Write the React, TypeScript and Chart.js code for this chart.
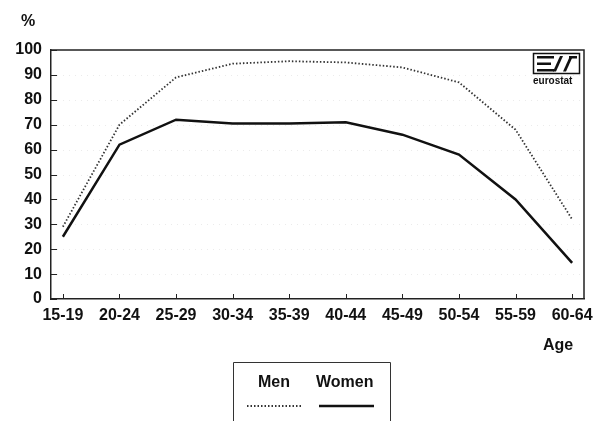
import React, { useEffect, useRef } from "react";
import { Chart, registerables } from "chart.js";

Chart.register(...registerables);

const ageGroups = ["15-19", "20-24", "25-29", "30-34", "35-39", "40-44", "45-49", "50-54", "55-59", "60-64"];
const menRates = [29, 70, 89, 94.5, 95.5, 95, 93, 87, 68, 32];
const womenRates = [25, 62, 72, 70.5, 70.5, 71, 66, 58, 40, 14.5];
const yTicks = [0, 10, 20, 30, 40, 50, 60, 70, 80, 90, 100];
const FONT = "'Liberation Sans', Arial, sans-serif";

const decorPlugin = {
  id: "decor",
  beforeDraw(chart: any) {
    const ctx = chart.ctx;
    ctx.save();
    ctx.fillStyle = "#fff";
    ctx.fillRect(0, 0, chart.width, chart.height);
    const { left, right } = chart.chartArea;
    const ys = chart.scales.y;
    ctx.strokeStyle = "rgba(0,0,0,0.08)";
    ctx.lineWidth = 1;
    ctx.setLineDash([1, 5]);
    for (const v of yTicks) {
      if (v === 0 || v === 100) continue;
      const y = Math.round(ys.getPixelForValue(v)) + 0.5;
      ctx.beginPath();
      ctx.moveTo(left, y);
      ctx.lineTo(right, y);
      ctx.stroke();
    }
    ctx.restore();
  },
  afterDraw(chart: any) {
    const ctx = chart.ctx;
    const { left, right, top, bottom } = chart.chartArea;
    const xs = chart.scales.x;
    const ys = chart.scales.y;
    ctx.save();
    ctx.strokeStyle = "#222";
    ctx.lineWidth = 1.5;
    ctx.setLineDash([]);
    ctx.beginPath();
    ctx.moveTo(left, top);
    ctx.lineTo(right, top);
    ctx.lineTo(right, bottom);
    ctx.stroke();
    ctx.lineWidth = 1;
    for (const v of yTicks) {
      const y = Math.round(ys.getPixelForValue(v)) + 0.5;
      ctx.beginPath();
      ctx.moveTo(left, y);
      ctx.lineTo(left + 6, y);
      ctx.stroke();
    }
    for (let i = 0; i < ageGroups.length; i++) {
      const x = Math.round(xs.getPixelForValue(i)) + 0.5;
      ctx.beginPath();
      ctx.moveTo(x, bottom);
      ctx.lineTo(x, bottom - 5);
      ctx.stroke();
    }
    ctx.fillStyle = "#111";
    ctx.font = `bold 16px ${FONT}`;
    ctx.textBaseline = "middle";
    ctx.textAlign = "left";
    ctx.fillText("%", 21, 22);
    ctx.fillText("Age", 543, 346);
    ctx.strokeStyle = "#333";
    ctx.lineWidth = 1;
    ctx.beginPath();
    ctx.moveTo(233.5, 421);
    ctx.lineTo(233.5, 362.5);
    ctx.lineTo(390.5, 362.5);
    ctx.lineTo(390.5, 421);
    ctx.stroke();
    ctx.fillText("Men", 258, 383);
    ctx.fillText("Women", 316, 383);
    ctx.strokeStyle = "#333";
    ctx.lineWidth = 1.8;
    ctx.setLineDash([1.5, 2]);
    ctx.beginPath();
    ctx.moveTo(247, 406);
    ctx.lineTo(303, 406);
    ctx.stroke();
    ctx.setLineDash([]);
    ctx.strokeStyle = "#111";
    ctx.lineWidth = 2.5;
    ctx.beginPath();
    ctx.moveTo(319, 406);
    ctx.lineTo(374, 406);
    ctx.stroke();
    ctx.strokeStyle = "#111";
    ctx.lineWidth = 1.5;
    ctx.strokeRect(533.5, 53.5, 46, 20);
    ctx.fillStyle = "#111";
    ctx.fillRect(537, 56, 17, 2.5);
    ctx.fillRect(537, 62.5, 14, 2.5);
    ctx.fillRect(537, 69, 17, 2.5);
    const slash = (x0: number) => {
      ctx.beginPath();
      ctx.moveTo(x0 + 7, 56);
      ctx.lineTo(x0 + 10, 56);
      ctx.lineTo(x0 + 3, 71.5);
      ctx.lineTo(x0, 71.5);
      ctx.closePath();
      ctx.fill();
    };
    slash(553);
    slash(563);
    ctx.fillRect(569, 56, 8, 2.5);
    ctx.font = `bold 10px ${FONT}`;
    ctx.textAlign = "left";
    ctx.fillText("eurostat", 533, 81);
    ctx.restore();
  },
};

export default function App() {
  const ref = useRef<HTMLCanvasElement | null>(null);
  useEffect(() => {
    if (!ref.current) return;
    const chart = new Chart(ref.current, {
      type: "line",
      data: {
        datasets: [
          {
            label: "Men",
            data: menRates.map((v, i) => ({ x: i, y: v })),
            borderColor: "#333",
            borderWidth: 1.8,
            borderDash: [1.5, 2],
            pointRadius: 0,
            tension: 0,
            fill: false,
          },
          {
            label: "Women",
            data: womenRates.map((v, i) => ({ x: i, y: v })),
            borderColor: "#111",
            borderWidth: 2.5,
            pointRadius: 0,
            tension: 0,
            fill: false,
          },
        ],
      },
      options: {
        animation: false,
        responsive: false,
        devicePixelRatio: 1,
        layout: { padding: { top: 50, right: 22, bottom: 100, left: 0 } },
        plugins: { legend: { display: false }, tooltip: { enabled: false } },
        scales: {
          x: {
            type: "linear",
            min: -0.21,
            max: 9.21,
            afterBuildTicks: (scale: any) => {
              scale.ticks = ageGroups.map((_, i) => ({ value: i }));
            },
            afterFit: (scale: any) => {
              scale.height = 22;
            },
            grid: { display: false, drawTicks: false },
            border: { display: true, color: "#222", width: 1.5 },
            ticks: {
              autoSkip: false,
              maxRotation: 0,
              padding: 7,
              color: "#111",
              font: { family: FONT, size: 16, weight: "bold" },
              callback: (v: any) => ageGroups[Math.round(Number(v))] ?? "",
            },
          },
          y: {
            min: 0,
            max: 100,
            afterFit: (scale: any) => {
              scale.width = 51;
            },
            grid: { display: false, drawTicks: false },
            border: { display: true, color: "#222", width: 1.5 },
            ticks: {
              stepSize: 10,
              padding: 9,
              color: "#111",
              font: { family: FONT, size: 16, weight: "bold" },
            },
          },
        },
      },
      plugins: [decorPlugin],
    });
    return () => chart.destroy();
  }, []);
  return (
    <div style={{ position: "absolute", left: 0, top: 0, width: 606, height: 421, background: "#fff" }}>
      <canvas ref={ref} width={606} height={421} style={{ width: 606, height: 421, display: "block" }} />
    </div>
  );
}
